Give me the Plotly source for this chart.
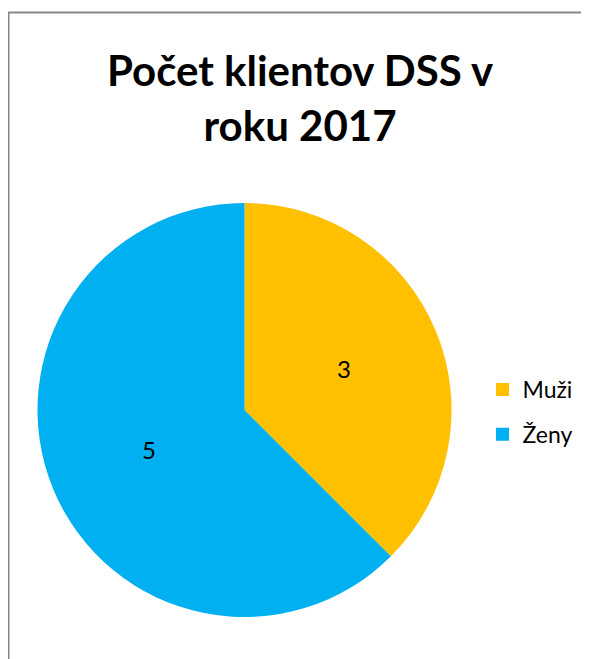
import plotly.graph_objects as go

categories = ["Muži", "Ženy"]
values = [3, 5]
colors = ["#FFC000", "#00B0F0"]
title_text = "Počet klientov DSS v<br>roku 2017"

W, H = 589, 659
OFF = 8  # page body margin offset


def px(x):
    return (x - OFF) / W


def py(y):
    return 1 - (y - OFF) / H


fig = go.Figure()
fig.add_trace(go.Pie(
    labels=categories,
    values=values,
    sort=False,
    direction="clockwise",
    rotation=0,
    marker=dict(colors=colors, line=dict(width=0)),
    textinfo="value",
    textposition="inside",
    insidetextorientation="horizontal",
    textfont=dict(family="Lato", size=24, color="#000000"),
    showlegend=False,
    hoverinfo="label+value",
    domain=dict(x=[px(37.5), px(451.5)], y=[py(617), py(203)]),
))

# legend entries built from the same categories
for cat, col in zip(categories, colors):
    fig.add_trace(go.Scatter(
        x=[None], y=[None], mode="markers", name=cat,
        legendgroup=cat,
        marker=dict(symbol="square", size=13, color=col),
        showlegend=True,
    ))

fig.update_layout(
    width=W, height=H,
    margin=dict(l=0, r=0, t=0, b=0),
    paper_bgcolor="white",
    plot_bgcolor="white",
    xaxis=dict(visible=False),
    yaxis=dict(visible=False),
    annotations=[dict(
        text="<b>" + title_text + "</b>",
        xref="paper", yref="paper",
        x=px(300), xanchor="center",
        y=py(43), yanchor="top",
        showarrow=False,
        align="center",
        font=dict(family="Lato", size=42, color="#000000"),
    )],
    legend=dict(
        x=px(482.5), xanchor="left",
        y=py(412), yanchor="middle",
        traceorder="grouped",
        tracegroupgap=12,
        font=dict(family="Lato", size=23, color="#000000"),
        bgcolor="rgba(0,0,0,0)",
    ),
    shapes=[dict(
        type="rect", xref="paper", yref="paper",
        x0=px(8.5), x1=1.05, y0=-0.05, y1=py(12.5),
        line=dict(color="#878787", width=2),
        fillcolor="rgba(0,0,0,0)",
    )],
)

fig.write_html("out.html")
